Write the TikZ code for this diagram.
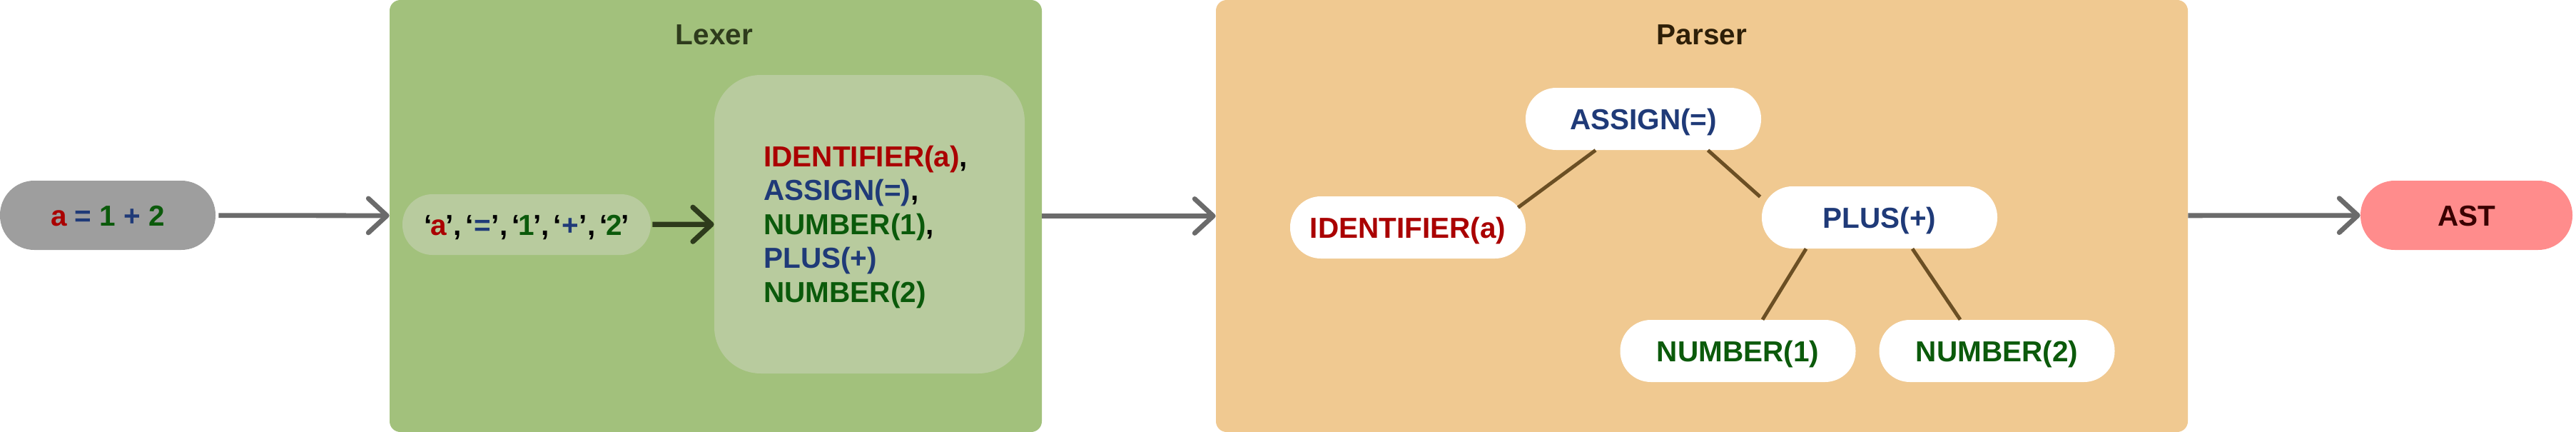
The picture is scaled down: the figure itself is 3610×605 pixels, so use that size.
\documentclass[tikz,border=0pt]{standalone}
\usepackage{fontspec}
\setmainfont{Liberation Sans}
\usetikzlibrary{arrows.meta,calc,positioning}
\definecolor{lexgreen}{HTML}{A2C17C}
\definecolor{lexlight}{HTML}{B8CB9E}
\definecolor{parsetan}{HTML}{F0C991}
\definecolor{srcgray}{HTML}{9E9E9E}
\definecolor{astpink}{HTML}{FF8C8C}
\definecolor{astdark}{HTML}{3A0000}
\definecolor{arrowgray}{HTML}{6B6B6B}
\definecolor{lexdark}{HTML}{2E3B1C}
\definecolor{parsedark}{HTML}{2E1F08}
\definecolor{branchbrown}{HTML}{6B4F24}
\definecolor{idred}{HTML}{AA0000}
\definecolor{opblue}{HTML}{1F3A78}
\definecolor{numgreen}{HTML}{0B5A0B}
\newcommand*{\tok}[2]{{\color{#1}#2}}
\newcommand*{\chr}[2]{‘\kern-1pt\tok{#1}{#2}\kern-1pt’}
\newcommand*{\opchr}[2]{‘\kern0.3pt\tok{#1}{#2}\kern0.3pt’}
\tikzstyle{stage}=[rectangle,rounded corners=7.5pt,minimum height=302.5pt,inner sep=0pt]
\tikzstyle{pill}=[rectangle,rounded corners=21.5pt,minimum width=165pt,minimum height=43.5pt,inner sep=0pt,text height=14.5pt,text depth=0pt,fill=white]
\tikzstyle{flow}=[line width=3.4pt,draw=arrowgray,-{Straight Barb[length=13pt,width=24pt,round]}]
\tikzstyle{lexflow}=[line width=3.6pt,draw=lexdark,-{Straight Barb[length=13pt,width=24pt,round]}]
\tikzstyle{branch}=[line width=2.5pt,draw=branchbrown]

\begin{document}
\begin{tikzpicture}[x=0.5pt,y=-0.5pt,font=\fontsize{20.25}{23.75}\selectfont\bfseries]
            \useasboundingbox (0,0) rectangle (3610,605);
            % stages
            \node[stage,fill=lexgreen,minimum width=457pt] (lexer) at (1003,302.5) {};
            \node[stage,fill=parsetan,minimum width=681pt] (parser) at (2385,302.5) {};
            \node[anchor=base,text=lexdark] (lexertitle) at (1001,62.5) {Lexer};
            \node[anchor=base,text=parsedark] (parsertitle) at (2385,62.5) {Parser};
            % input and output
            \node[pill,fill=srcgray,minimum width=151pt,minimum height=48.5pt,rounded corners=24pt] (source) at (151,301.5) {\tok{idred}{a} \tok{opblue}{=} \tok{numgreen}{1} \tok{opblue}{+} \tok{numgreen}{2}};
            \node[pill,fill=astpink,text=astdark,minimum width=148.5pt,minimum height=48.5pt,rounded corners=24pt] (ast) at (3456.5,301.5) {AST};
            % lexer
            \node[pill,fill=lexlight,minimum width=174pt,minimum height=42.5pt,rounded corners=21pt] (chars) at (738,314.5) {\chr{idred}{a},\hspace{3pt}\opchr{opblue}{=},\hspace{3pt}\chr{numgreen}{1},\hspace{3pt}\opchr{opblue}{+},\hspace{3pt}\chr{numgreen}{2}};
            \node[rectangle,rounded corners=32.5pt,fill=lexlight,minimum width=217.5pt,minimum height=209pt] (tokbox) at (1218.5,314) {};
            \node[anchor=west,align=left,inner sep=0pt] (toklist) at (1070,318) {\tok{idred}{IDENTIFIER(a)},\\\tok{opblue}{ASSIGN(=)},\\\tok{numgreen}{NUMBER(1)},\\\tok{opblue}{PLUS(+)}\\\tok{numgreen}{NUMBER(2)}};
            % parser tree
            \node[pill] (assign) at (2303,166.5) {\tok{opblue}{ASSIGN(=)}};
            \node[pill] (ident) at (1973,318.5) {\tok{idred}{IDENTIFIER(a)}};
            \node[pill] (plus) at (2634,304.5) {\tok{opblue}{PLUS(+)}};
            \node[pill] (num1) at (2435.5,491.5) {\tok{numgreen}{NUMBER(1)}};
            \node[pill] (num2) at (2798.5,491.5) {\tok{numgreen}{NUMBER(2)}};
            \draw[branch] ($(assign.south)+(-67,0)$) -- ($(ident.north east)+(-11,16)$);
            \draw[branch] ($(assign.south)+(90.5,0)$) -- ($(plus.north west)+(-2,15)$);
            \draw[branch] ($(plus.south)+(-103,0)$) -- ($(num1.north)+(34.5,0)$);
            \draw[branch] ($(plus.south)+(46,0)$) -- ($(num2.north)+(-51.5,0)$);
            % flow
            \draw[flow,shorten <=2pt] (source) -- (lexer);
            \draw[lexflow,shorten <=1pt] (chars) -- (tokbox);
            \draw[flow] (lexer) -- (parser);
            \draw[flow] (parser) -- (ast);
        \end{tikzpicture}
\end{document}
